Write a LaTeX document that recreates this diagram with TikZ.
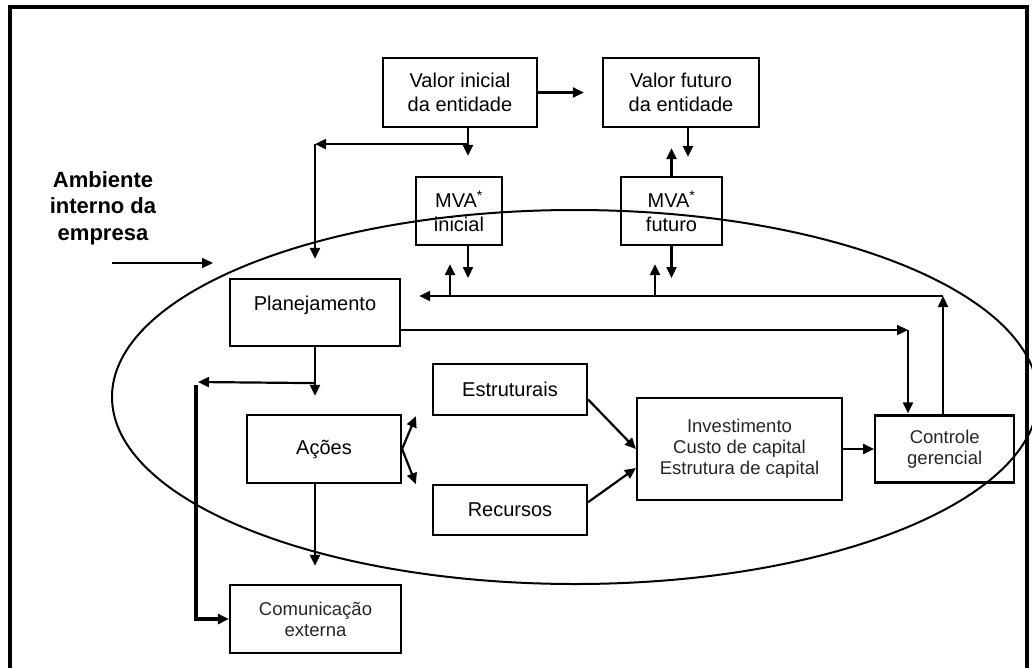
\documentclass[tikz,border=0pt]{standalone}
\usepackage{fontspec}
\setmainfont{Liberation Sans}
\usetikzlibrary{positioning,arrows.meta}

\begin{document}
\begin{tikzpicture}[
    x=1pt, y=-1pt,
    every node/.style={font=\fontsize{20}{23.5}\selectfont},
    box/.style={draw, line width=2.2pt, align=center, inner sep=0pt},
    thinbox/.style={box, font=\fontsize{18.5}{21}\selectfont, text=black!85},
    arr/.style={line width=2.2pt, -{Triangle[length=11pt,width=10pt]}}
]

\useasboundingbox (0,0) rectangle (1032,667);
\draw[line width=4pt] (10,7) rectangle (1027,700);

% 上方节点
\node[box, minimum width=154pt, minimum height=69pt] (vi) at (460,92.5) {Valor inicial\\da entidade};
\node[box, minimum width=156pt, minimum height=69pt] (vf) at (681,92.5) {Valor futuro\\da entidade};
\node[box, minimum width=86pt, minimum height=68pt] (mvai) at (459,211) {MVA\textsuperscript{*}\\inicial};
\node[box, minimum width=101pt, minimum height=68pt] (mvaf) at (671.5,211) {MVA\textsuperscript{*}\\futuro};

% 左侧节点
\node[box, minimum width=170pt, minimum height=67pt] (plan) at (315,312.5) {\raisebox{7pt}[\height][\depth]{Planejamento}};
\node[box, minimum width=154pt, minimum height=68pt] (acoes) at (324,449) {Ações};
\node[thinbox, minimum width=171pt, minimum height=68pt] (com) at (315.5,619) {Comunicação\\externa};

% 中间和右侧节点
\node[box, minimum width=154pt, minimum height=51pt] (estr) at (510,389.5) {Estruturais};
\node[box, minimum width=154pt, minimum height=50pt, below=68pt of estr] (rec) {Recursos};
\node[thinbox, minimum width=205pt, minimum height=102pt] (inv) at (739.5,449) {Investimento\\Custo de capital\\Estrutura de capital};
\node[thinbox, minimum width=139pt, minimum height=67pt, right=31pt of inv] (ctrl) {Controle\\gerencial};

% 环境
\node[font=\fontsize{22}{26.5}\selectfont\bfseries, align=center] (amb) at (103,208) {Ambiente\\interno da\\empresa};
\coordinate (entra) at (112,263);
\coordinate (alvo) at (213,263);
\draw[arr] (entra) -- (alvo);
\draw[line width=2pt] (575,397) ellipse [x radius=463pt, y radius=187pt];

% 辅助点
\coordinate (fb) at (943,296);
\coordinate (pc) at (908,330);
\coordinate (topo) at ([xshift=8pt, yshift=-16pt]vi.south);
\coordinate (ramo) at ([yshift=-36pt]plan.south);
\coordinate (volta) at (198,382);

% 连接线
\draw[arr, shorten >=18pt] (vi) -- (vf);
\draw[arr, shorten >=20pt] ([xshift=8pt]vi.south) -- ([xshift=8pt]vi.south |- mvai.north);
\draw[arr] (topo) -- (topo -| plan.north);
\draw[arr, shorten >=19pt] (topo -| plan.north) -- (plan.north);
\draw[arr, shorten >=19pt] ([xshift=7pt]vf.south) -- ([xshift=7pt]vf.south |- mvaf.north);
\draw[arr, shorten >=20pt] (mvaf.north) -- (mvaf.north |- vf.south);

\draw[arr, shorten >=18pt] ([xshift=9pt]mvai.south) -- ([xshift=9pt]mvai.south |- fb);
\draw[arr, shorten >=18pt] ([xshift=-9pt]mvai.south |- fb) -- ([xshift=-9pt]mvai.south);
\draw[arr, shorten >=18pt] (mvaf.south) -- (mvaf.south |- fb);
\draw[arr, shorten >=18pt] ([xshift=-16.5pt]mvaf.south |- fb) -- ([xshift=-16.5pt]mvaf.south);

\draw[arr] (ctrl.north -| fb) -- (fb);
\draw[arr, shorten >=18pt] (fb) -- (fb -| plan.east);
\draw[arr] (plan.east |- pc) -- (pc);
\draw[arr, shorten >=1pt] (pc) -- (pc |- ctrl.north);

\draw[arr, shorten >=18pt] (plan.south) -- (plan.south |- acoes.north);
\draw[arr] (ramo) -- (volta);
\draw[line width=3.4pt, -{Triangle[length=11pt,width=10pt]}] ([xshift=-2pt, yshift=-3pt]volta) |- (com.west);
\draw[arr, shorten >=18pt] (plan.south |- acoes.south) -- (plan.south |- com.north);

\draw[arr] (acoes.east) -- ([xshift=-16pt]estr.south west);
\draw[arr] (acoes.east) -- ([xshift=-16pt]rec.north west);
\draw[arr] ([yshift=-10pt]estr.east) -- (inv.west);
\draw[arr] ([yshift=8pt]rec.east) -- ([yshift=-19pt]inv.west);
\draw[arr] (inv.east) -- (inv.east -| ctrl.west);

\end{tikzpicture}
\end{document}
